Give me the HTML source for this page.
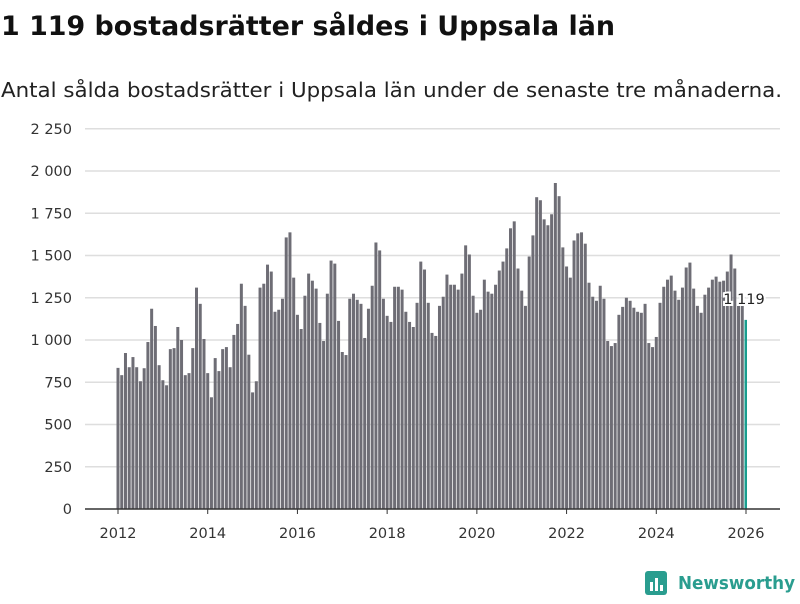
<!DOCTYPE html>
<html><head><meta charset="utf-8"><style>
body{margin:0;background:#fff;font-family:"DejaVu Sans",sans-serif;}
svg text{font-family:"DejaVu Sans","Liberation Sans",sans-serif;}
</style></head><body>
<svg id="c" width="800" height="600">
<text x="1" y="35" font-size="26.5" font-weight="bold" fill="#111" textLength="614" lengthAdjust="spacingAndGlyphs">1 119 bostadsrätter såldes i Uppsala län</text>
<text x="1" y="97" font-size="20.5" fill="#222" textLength="781" lengthAdjust="spacingAndGlyphs">Antal sålda bostadsrätter i Uppsala län under de senaste tre månaderna.</text>
<g id="grid"></g><g id="bars"></g><g id="xax"></g>
<g>
<rect x="645" y="571" width="22" height="24" rx="3" fill="#2a9d8f"/>
<rect x="650" y="582" width="3" height="9" fill="#fff"/><rect x="655" y="578" width="3" height="13" fill="#fff"/><rect x="660" y="585" width="3" height="6" fill="#fff"/>
<text x="678" y="589" font-size="18" font-weight="bold" fill="#2a9d8f" textLength="117" lengthAdjust="spacingAndGlyphs">Newsworthy</text>
</g>
</svg>
<script>
const yTicks=[0,250,500,750,1000,1250,1500,1750,2000,2250];
const yLabels=["0","250","500","750","1 000","1 250","1 500","1 750","2 000","2 250"];
const xYears=[2012,2014,2016,2018,2020,2022,2024,2026];
const startYear=2012;
const values=[
835,792,923,839,899,839,756,833,988,1185,1083,851,
762,732,946,952,1077,1000,792,804,952,1310,1214,1006,
804,661,893,816,946,958,839,1030,1095,1333,1202,913,
690,756,1310,1333,1446,1405,1167,1179,1244,1607,1637,1369,
1149,1065,1262,1393,1351,1304,1101,994,1274,1470,1452,1113,
929,911,1244,1274,1238,1214,1012,1185,1321,1577,1530,1244,
1143,1107,1315,1315,1298,1167,1107,1077,1220,1464,1417,1220,
1042,1024,1202,1256,1387,1327,1327,1298,1393,1560,1506,1262,
1161,1179,1357,1286,1274,1327,1411,1464,1542,1661,1702,1423,
1292,1202,1494,1619,1845,1827,1714,1679,1744,1929,1851,1548,
1435,1369,1589,1631,1637,1570,1339,1256,1232,1321,1244,994,
964,982,1149,1196,1250,1232,1191,1167,1161,1214,982,958,
1018,1220,1315,1357,1381,1292,1238,1310,1429,1458,1304,1202,
1161,1268,1310,1357,1375,1345,1351,1405,1506,1423,1230,1210,
1119];
const NS="http://www.w3.org/2000/svg";
const y0=509,pxPer=338/2000,x0=117,pxMonth=628/168;
const Y=v=>y0-v*pxPer, X=i=>x0+i*pxMonth;
function mk(t,a,p){const e=document.createElementNS(NS,t);for(const k in a)e.setAttribute(k,a[k]);p.appendChild(e);return e;}
const g=document.getElementById('grid');
yTicks.forEach((v,i)=>{
 if(v>0){const l=mk('line',{x1:85,x2:780,y1:Y(v),y2:Y(v),stroke:'#dedede','stroke-width':1.5},g);
 
 }
 const t=mk('text',{x:72,y:Y(v)+5,'text-anchor':'end','font-size':14.5,fill:'#333'},g);t.textContent=yLabels[i];
 
 
});
const b=document.getElementById('bars');
values.forEach((v,i)=>{
 const last=i===values.length-1;
 const r=mk('rect',{x:X(i)-0.5,y:Y(v),width:last?2.5:3,height:v*pxPer,fill:last?'#1a9e8f':'#6e6d75'},b);
 
 
});
const xa=document.getElementById('xax');
const ax=mk('line',{x1:85,x2:780,y1:y0,y2:y0,stroke:'#333','stroke-width':1.5},xa);


xYears.forEach(yr=>{
 const x=X((yr-startYear)*12)+1;
 mk('line',{x1:x,x2:x,y1:y0,y2:y0+5,stroke:'#333'},xa);
 const t=mk('text',{x:x,y:538,'text-anchor':'middle','font-size':14.5,fill:'#333'},xa);t.textContent=yr;
 
 
});
const li=values.length-1;
const lab=mk('text',{x:X(li)-1,y:Y(values[li])-16,'text-anchor':'middle','font-size':14.5,fill:'#222',stroke:'#fff','stroke-width':4,'paint-order':'stroke'},b);
lab.textContent='1 119';


</script>
</body></html>
